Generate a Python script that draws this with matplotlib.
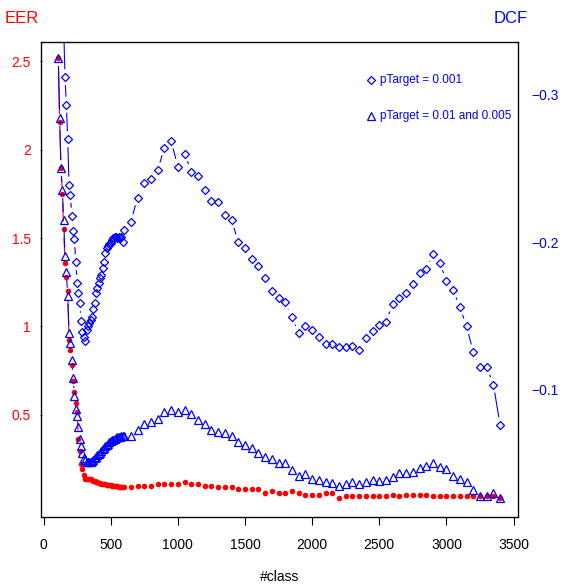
import numpy as np
import matplotlib.pyplot as plt
from matplotlib.collections import LineCollection

plt.rcParams['font.family'] = ['Liberation Sans', 'DejaVu Sans']

# number of classes (dense steps first, then every 50)
n_class = list(range(110, 610, 10)) + list(range(650, 3450, 50))

# EER (left axis)
eer = [2.52, 2.156, 1.898, 1.747, 1.549, 1.358, 1.277, 1.199, 0.922, 0.869,
       0.779, 0.690, 0.627, 0.567, 0.514, 0.365, 0.293, 0.218, 0.190, 0.161,
       0.137, 0.133, 0.133, 0.133, 0.133, 0.129, 0.124, 0.124, 0.120, 0.118,
       0.114, 0.112, 0.110, 0.108, 0.106, 0.105, 0.104, 0.102, 0.101, 0.099,
       0.098, 0.097, 0.096, 0.095, 0.094, 0.092, 0.091, 0.091, 0.090, 0.090,
       0.090, 0.097, 0.097, 0.097, 0.106, 0.106, 0.106, 0.106, 0.118, 0.106,
       0.106, 0.097, 0.097, 0.088, 0.088, 0.088, 0.080, 0.080, 0.080, 0.080,
       0.058, 0.069, 0.058, 0.058, 0.069, 0.058, 0.046, 0.046, 0.046, 0.058,
       0.058, 0.027, 0.037, 0.037, 0.037, 0.037, 0.037, 0.037, 0.037, 0.046,
       0.037, 0.046, 0.046, 0.046, 0.046, 0.037, 0.037, 0.037, 0.037, 0.037,
       0.037, 0.037, 0.037, 0.037, 0.037, 0.029]

# DCF, pTarget = 0.001 (right axis, first points run off the top)
dcf_001 = [-0.45, -0.42, -0.39, -0.37, -0.346,
           -0.3120, -0.2934, -0.2700, -0.2392, -0.2322, -0.2182, -0.2080, -0.2022,
           -0.1866, -0.1727, -0.1656, -0.1588, -0.1470, -0.1393, -0.1361, -0.1334,
           -0.1407, -0.1434, -0.1454, -0.1475, -0.1497, -0.1547, -0.1592, -0.1656,
           -0.1690, -0.1725, -0.1759, -0.1780, -0.1825, -0.1870, -0.1927, -0.1961,
           -0.1976, -0.1990, -0.1997, -0.2017, -0.2028, -0.2034, -0.2039, -0.2031,
           -0.2037, -0.2028, -0.2039, -0.2005, -0.2085,
           -0.2139, -0.2304, -0.2403, -0.2428, -0.2490, -0.2643, -0.2690, -0.2514,
           -0.2602, -0.2480, -0.2453, -0.2354, -0.2281, -0.2275, -0.2186, -0.2151,
           -0.2003, -0.1965, -0.1890, -0.1839, -0.1757, -0.1673, -0.1626, -0.1595,
           -0.1493, -0.1384, -0.1432, -0.1407, -0.1361, -0.1314, -0.1310, -0.1292,
           -0.1294, -0.1298, -0.1273, -0.1351, -0.1402, -0.1443, -0.1463, -0.1583,
           -0.1622, -0.1656, -0.1717, -0.1793, -0.1820, -0.1924, -0.1863, -0.1741,
           -0.1678, -0.1561, -0.1432, -0.1256, -0.1154, -0.1154, -0.1036, -0.0761]

# DCF, pTarget = 0.01 and 0.005 (right axis)
dcf_01 = [-0.3249, -0.2846, -0.2503, -0.2356, -0.2153, -0.1908, -0.1800, -0.1639,
          -0.1384, -0.1319, -0.1203, -0.1083, -0.0959, -0.0869, -0.0826, -0.0751,
          -0.0668, -0.0620, -0.0571, -0.0539, -0.0525, -0.0515, -0.0514, -0.0514,
          -0.0515, -0.0519, -0.0525, -0.0536, -0.0546, -0.0556, -0.0566, -0.0576,
          -0.0586, -0.0597, -0.0607, -0.0617, -0.0627, -0.0637, -0.0644, -0.0651,
          -0.0658, -0.0664, -0.0669, -0.0675, -0.0678, -0.0681, -0.0683, -0.0686,
          -0.0688, -0.0688,
          -0.0688, -0.0729, -0.0769, -0.0783, -0.0805, -0.0849, -0.0862, -0.0849,
          -0.0862, -0.0835, -0.0797, -0.0769, -0.0729, -0.0717, -0.0706, -0.0688,
          -0.0649, -0.0627, -0.0605, -0.0575, -0.0544, -0.0530, -0.0503, -0.0503,
          -0.0458, -0.0417, -0.0431, -0.0397, -0.0390, -0.0374, -0.0367, -0.0349,
          -0.0363, -0.0376, -0.0363, -0.0376, -0.0390, -0.0385, -0.0390, -0.0412,
          -0.0435, -0.0435, -0.0446, -0.0471, -0.0485, -0.0507, -0.0476, -0.0462,
          -0.0417, -0.0397, -0.0374, -0.0322, -0.0283, -0.0283, -0.0300, -0.0266]

x_ticks = [0, 500, 1000, 1500, 2000, 2500, 3000, 3500]
eer_ticks = [0.5, 1, 1.5, 2, 2.5]
eer_labels = ["0.5", "1", "1.5", "2", "2.5"]
dcf_ticks = [-0.3, -0.2, -0.1]
dcf_labels = ["\u22120.3", "\u22120.2", "\u22120.1"]

RED = "#FF0000"
BLUE = "#0000FF"

fig = plt.figure(figsize=(5.65, 5.85), dpi=100)
ax = fig.add_axes([0.0719, 0.1168, 0.8446, 0.8119])
ax2 = ax.twinx()

ax.set_xlim(-21.6, 3531.6)
ax.set_ylim(-0.0776, 2.612)
ax2.set_ylim(-0.0141, -0.3361)  # reversed like the original


def gapped_line(a, x, y, color, gap=8.0):
    # R type="b": segments stop short of each point
    pts = a.transData.transform(np.column_stack([x, y]))
    segs = []
    for p, q in zip(pts[:-1], pts[1:]):
        d = q - p
        length = np.hypot(d[0], d[1])
        if length <= 2 * gap:
            continue
        u = d / length
        segs.append(np.array([p + u * gap, q - u * gap]))
    inv = a.transData.inverted()
    segs = [inv.transform(s) for s in segs]
    a.add_collection(LineCollection(segs, colors=color, linewidths=0.8))


gapped_line(ax, n_class, eer, RED)
ax.plot(n_class, eer, "o", color=RED, ms=4.0, mew=0)

gapped_line(ax2, n_class, dcf_001, BLUE)
ax2.plot(n_class, dcf_001, "D", mfc="none", mec=BLUE, ms=3.9, mew=0.9)
gapped_line(ax2, n_class, dcf_01, BLUE)
ax2.plot(n_class, dcf_01, "^", mfc="none", mec=BLUE, ms=5.4, mew=0.9)

# axes and ticks
ax.set_xticks(x_ticks)
ax.set_xticklabels([str(t) for t in x_ticks], fontsize=10)
ax.tick_params(axis="x", length=6, width=0.8, pad=9)
ax.set_yticks(eer_ticks)
ax.set_yticklabels(eer_labels, fontsize=10, color=RED)
ax.tick_params(axis="y", length=2, width=0.6, pad=6, direction="inout")
ax2.set_yticks(dcf_ticks)
ax2.set_yticklabels(dcf_labels, fontsize=10, color=BLUE)
ax2.tick_params(axis="y", length=0, pad=10)
for s in ax.spines.values():
    s.set_linewidth(0.9)

ax.set_xlabel("#class", fontsize=10, labelpad=13)
fig.text(0.039, 0.969, "EER", color=RED, fontsize=12, ha="center", va="center")
fig.text(0.903, 0.969, "DCF", color=BLUE, fontsize=12, ha="center", va="center")

# legend drawn by hand
ax.plot([0.692], [0.919], "D", mfc="none", mec=BLUE, ms=3.9, mew=0.9,
        transform=ax.transAxes)
ax.text(0.711, 0.919, "pTarget = 0.001", color=BLUE, fontsize=8.5,
        va="center", transform=ax.transAxes)
ax.plot([0.692], [0.844], "^", mfc="none", mec=BLUE, ms=5.4, mew=0.9,
        transform=ax.transAxes)
ax.text(0.711, 0.844, "pTarget = 0.01 and 0.005", color=BLUE, fontsize=8.5,
        va="center", transform=ax.transAxes)

fig.savefig("out.png", dpi=100)
